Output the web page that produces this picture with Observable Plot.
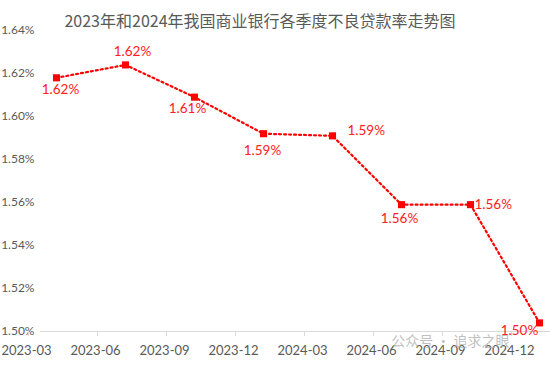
<!DOCTYPE html>
<html>
<head>
<meta charset="utf-8">
<script src="https://cdn.jsdelivr.net/npm/d3@7"></script>
<script src="https://cdn.jsdelivr.net/npm/@observablehq/plot@0.6"></script>
<style>
  html, body { margin: 0; padding: 0; background: #fff; }
  #chart svg { display: block; }
</style>
</head>
<body>
<div id="chart"></div>
<script>
const title = "2023年和2024年我国商业银行各季度不良贷款率走势图";
const quarters = ["2023-03", "2023-06", "2023-09", "2023-12", "2024-03", "2024-06", "2024-09", "2024-12"];
const rates = [1.618, 1.624, 1.609, 1.592, 1.591, 1.559, 1.559, 1.504];
const rateLabels = ["1.62%", "1.62%", "1.61%", "1.59%", "1.59%", "1.56%", "1.56%", "1.50%"];
const yTicks = [1.50, 1.52, 1.54, 1.56, 1.58, 1.60, 1.62, 1.64];
const watermark = "公众号 · 追求之眼";

// label placement (style config)
const placement = [
  {dx: 4, dy: 12, anchor: "middle"},
  {dx: 7, dy: -13, anchor: "middle"},
  {dx: -7, dy: 12, anchor: "middle"},
  {dx: -1, dy: 17, anchor: "middle"},
  {dx: 15, dy: -5, anchor: "start"},
  {dx: -2, dy: 14, anchor: "middle"},
  {dx: 4, dy: 0, anchor: "start"},
  {dx: -20, dy: 8, anchor: "middle"}
];

const data = quarters.map((q, i) => ({q, v: rates[i], label: rateLabels[i], i}));
const red = "#ff0000";
const labelRed = "#ff2020";
const gray = "#595959";
const numFont = "Lato, 'Liberation Sans', sans-serif";

const labelMarks = data.map((d, i) => Plot.text([d], {
  x: "q", y: "v", text: "label",
  dx: placement[i].dx, dy: placement[i].dy, textAnchor: placement[i].anchor,
  fill: labelRed, fontSize: 13.5, fontFamily: numFont
}));

const chart = Plot.plot({
  width: 554,
  height: 369,
  marginTop: 30,
  marginBottom: 38,
  marginLeft: 54,
  marginRight: 13,
  style: {fontFamily: numFont, background: "#fff", overflow: "visible"},
  x: {type: "point", domain: quarters, padding: 0},
  y: {type: "linear", domain: [1.50, 1.64]},
  marks: [
    Plot.text([title], {frameAnchor: "top", dy: -15, dx: -38, fontSize: 16, fill: gray,
      fontFamily: "'Noto Sans CJK SC', sans-serif"}),
    Plot.axisY({ticks: yTicks, tickSize: 0, tickPadding: 20, tickFormat: d => d3.format(".2f")(d) + "%",
      fontSize: 12, color: gray, label: null, fontFamily: numFont}),
    Plot.axisX({tickSize: 0, tickPadding: 14, dx: -30, fontSize: 13, color: gray, label: null, fontFamily: numFont}),
    Plot.ruleY([1.50], {stroke: "#d9d9d9", strokeWidth: 1, insetLeft: -14, insetRight: -9}),
    Plot.ruleX(quarters, {x: d => d, y1: 1.50, y2: 1.50, insetBottom: -5, dx: -28, stroke: "#d9d9d9"}),
    Plot.line(data, {x: "q", y: "v", stroke: red, strokeWidth: 2.2, strokeDasharray: "2 3"}),
    Plot.dot(data, {x: "q", y: "v", symbol: "square", r: 4, fill: red, stroke: "none"}),
    ...labelMarks,
    Plot.text([watermark], {frameAnchor: "bottom-right", dx: -32, dy: 14, fill: "#b0b0b0", fillOpacity: 0.8,
      fontSize: 14, fontFamily: "'Noto Sans CJK SC', sans-serif"})
  ]
});
document.getElementById("chart").appendChild(chart);
</script>
</body>
</html>
